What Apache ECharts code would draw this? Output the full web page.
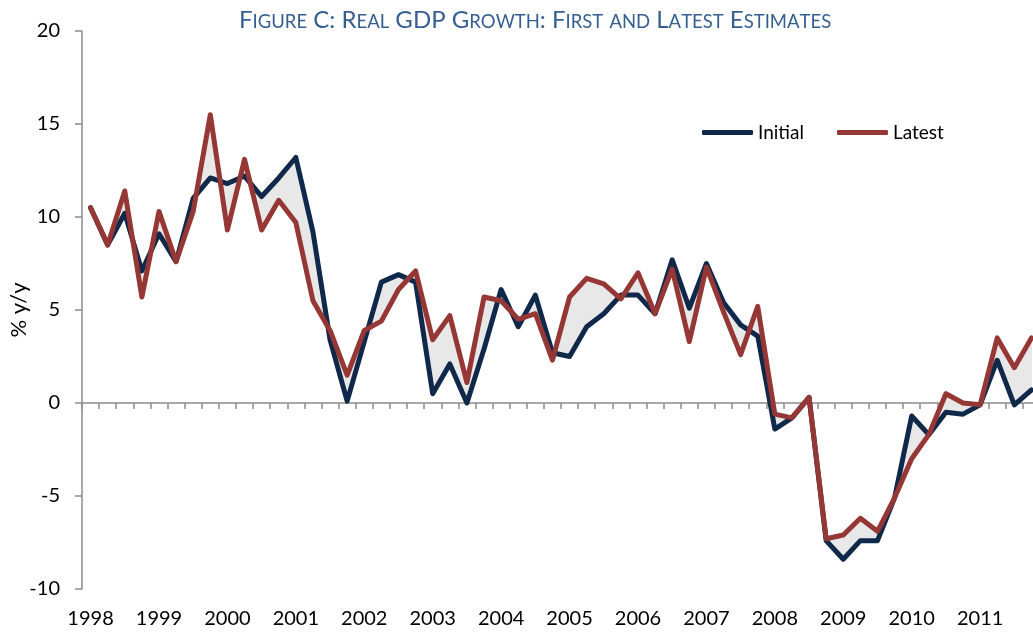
<!DOCTYPE html>
<html>
<head>
<meta charset="utf-8">
<title>Real GDP Growth: First and Latest Estimates</title>
<script src="https://cdn.jsdelivr.net/npm/echarts@6/dist/echarts.min.js"></script>
<style>
  html, body { margin: 0; padding: 0; background: #fff; }
  #chart { width: 1033px; height: 633px; }
</style>
</head>
<body>
<div id="chart"></div>
<script>
// 年份标签（每年四个季度）
const years = ['1998', '1999', '2000', '2001', '2002', '2003', '2004',
  '2005', '2006', '2007', '2008', '2009', '2010', '2011'];

// 初值（% y/y）
const initial = [
  10.5, 8.5, 10.2, 7.1, 9.1, 7.6, 11.0, 12.1,
  11.8, 12.2, 11.1, 12.1, 13.2, 9.2, 3.4, 0.1,
  3.3, 6.5, 6.9, 6.5, 0.5, 2.1, 0.0, 2.9,
  6.1, 4.1, 5.8, 2.7, 2.5, 4.1, 4.8, 5.8,
  5.8, 4.8, 7.7, 5.1, 7.5, 5.4, 4.2, 3.6,
  -1.4, -0.8, 0.3, -7.4, -8.4, -7.4, -7.4, -5.1,
  -0.7, -1.7, -0.5, -0.6, -0.1, 2.3, -0.1, 0.7
];

// 最新值（% y/y）
const latest = [
  10.5, 8.5, 11.4, 5.7, 10.3, 7.6, 10.3, 15.5,
  9.3, 13.1, 9.3, 10.9, 9.7, 5.5, 3.9, 1.5,
  3.9, 4.4, 6.1, 7.1, 3.4, 4.7, 1.1, 5.7,
  5.5, 4.5, 4.8, 2.3, 5.7, 6.7, 6.4, 5.6,
  7.0, 4.8, 7.2, 3.3, 7.3, 4.9, 2.6, 5.2,
  -0.6, -0.8, 0.3, -7.3, -7.1, -6.2, -6.9, -5.1,
  -3.0, -1.7, 0.5, 0.0, -0.1, 3.5, 1.9, 3.5
];

// 季度类目
const quarters = [];
years.forEach(y => {
  for (let q = 1; q <= 4; q++) quarters.push(y + 'Q' + q);
});

// 两条线之间的阴影区域（逐段多边形）
const bandData = [];
for (let i = 0; i < initial.length - 1; i++) {
  bandData.push([i, initial[i], latest[i], initial[i + 1], latest[i + 1]]);
}

// 标题小型大写字母
function smallCaps(str) {
  let out = '';
  for (const ch of str) {
    if (ch >= 'a' && ch <= 'z') out += '{s|' + ch.toUpperCase() + '}';
    else out += '{b|' + ch + '}';
  }
  return out;
}

const font = 'Lato, "Open Sans", sans-serif';
const axisGray = '#8c8c8c';

let myChart = echarts.init(document.getElementById('chart'));
myChart.setOption({
  animation: false,
  title: {
    text: smallCaps('Figure C: Real GDP Growth: First and Latest Estimates'),
    left: 234,
    top: 3,
    textStyle: {
      rich: {
        b: { fontFamily: font, fontSize: 24, lineHeight: 24, verticalAlign: 'bottom', fontWeight: 'normal', color: '#365F91' },
        s: { fontFamily: font, fontSize: 18.5, lineHeight: 18.5, verticalAlign: 'bottom', fontWeight: 'normal', color: '#365F91' }
      }
    }
  },
  legend: {
    data: ['Initial', 'Latest'],
    left: 697,
    top: 118,
    icon: 'roundRect',
    itemWidth: 51,
    itemHeight: 5,
    itemGap: 33,
    textStyle: { fontFamily: font, fontSize: 19, color: '#000' }
  },
  grid: {
    left: 82,
    right: -7,
    top: 31,
    bottom: 44,
    outerBoundsMode: 'none'
  },
  xAxis: [
    {
      // 零线及季度刻度
      type: 'category',
      data: quarters,
      boundaryGap: true,
      position: 'bottom',
      axisLine: { onZero: true, lineStyle: { color: axisGray, width: 1.5 } },
      axisTick: { show: true, interval: 0, length: 6, lineStyle: { color: axisGray, width: 1.5 } },
      axisLabel: { show: false },
      splitLine: { show: false }
    },
    {
      // 底部年份标签
      type: 'category',
      data: quarters,
      boundaryGap: true,
      position: 'bottom',
      axisLine: { show: false, onZero: false },
      axisTick: { show: false },
      axisLabel: {
        interval: 0,
        margin: 20,
        fontFamily: font,
        fontSize: 20,
        color: '#000',
        formatter: v => (v.slice(4) === 'Q1' ? v.slice(0, 4) : '')
      },
      splitLine: { show: false }
    }
  ],
  yAxis: {
    type: 'value',
    min: -10,
    max: 20,
    interval: 5,
    name: '% y/y',
    nameLocation: 'middle',
    nameRotate: 90,
    nameGap: 52,
    nameMoveOverlap: false,
    nameTextStyle: { fontFamily: font, fontSize: 22, color: '#000' },
    axisLine: { show: true, lineStyle: { color: axisGray, width: 1.5 } },
    axisTick: { show: true, length: 7, lineStyle: { color: axisGray, width: 1.5 } },
    axisLabel: { margin: 22, fontFamily: font, fontSize: 20, color: '#000' },
    splitLine: { show: false }
  },
  series: [
    {
      name: 'band',
      type: 'custom',
      xAxisIndex: 0,
      z: 1,
      silent: true,
      data: bandData,
      encode: { x: 0, y: [1, 2, 3, 4] },
      renderItem: function (params, api) {
        const i = api.value(0);
        const a = api.coord([i, api.value(1)]);
        const b = api.coord([i + 1, api.value(3)]);
        const c = api.coord([i + 1, api.value(4)]);
        const d = api.coord([i, api.value(2)]);
        return {
          type: 'polygon',
          shape: { points: [a, b, c, d] },
          style: { fill: '#e8e8e8', stroke: '#e8e8e8', lineWidth: 1 }
        };
      }
    },
    {
      name: 'Initial',
      type: 'line',
      xAxisIndex: 0,
      z: 3,
      data: initial,
      symbol: 'none',
      itemStyle: { color: '#10284a' },
      lineStyle: { color: '#10284a', width: 5, cap: 'round', join: 'round' }
    },
    {
      name: 'Latest',
      type: 'line',
      xAxisIndex: 0,
      z: 4,
      data: latest,
      symbol: 'none',
      itemStyle: { color: '#953735' },
      lineStyle: { color: '#953735', width: 5, cap: 'round', join: 'round' }
    }
  ]
});
</script>
</body>
</html>
